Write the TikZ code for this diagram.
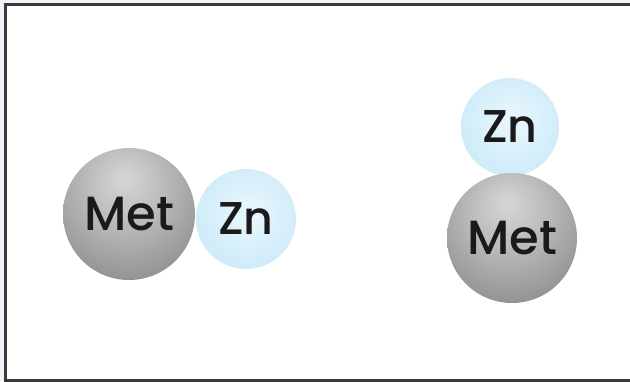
\documentclass[tikz,border=0pt]{standalone}
\usepackage{fontspec}
\setmainfont{Poppins}[UprightFont={* Medium}]
\definecolor{znlight}{HTML}{EAF7FD}
\definecolor{znmid}{HTML}{CDEBF8}
\definecolor{znedge}{HTML}{A9DBF3}
\definecolor{framecol}{HTML}{3A3A3A}
\definecolor{outside}{HTML}{EEF4FA}
\definecolor{labelcol}{HTML}{1A1A1A}
% sphere fills: a grey metal ball lit from above, a pale blue zinc ball
\pgfdeclareradialshading{metball}{\pgfpoint{-2bp}{14bp}}{%
  color(0bp)=(black!16); color(14bp)=(black!26); color(30bp)=(black!40); color(42bp)=(black!52); color(56bp)=(black!64); color(70bp)=(black!70)}
\pgfdeclareradialshading{znball}{\pgfpoint{2bp}{4bp}}{%
  color(0bp)=(znlight); color(28bp)=(znmid); color(50bp)=(znedge); color(60bp)=(znedge)}
\tikzset{
  metsphere/.style={circle, shading=metball, minimum size=132pt, inner sep=0pt,
    font=\fontsize{48}{48}\selectfont, text=labelcol},
  znsphere/.style={circle, shading=znball, minimum size=100pt, inner sep=0pt,
    font=\fontsize{46}{46}\selectfont, text=labelcol},
}
\begin{document}
\begin{tikzpicture}[x=1pt,y=-1pt]
  \useasboundingbox (0,0) rectangle (630,381);
  \fill[outside] (0,0) rectangle (630,381);
  \draw[framecol, line width=2.6pt, fill=white] (5.3,4.3) rectangle (640,380.2);
  % left pair: metal and zinc side by side
  \node[metsphere] (metA) at (129,214) {Met};
  \node[znsphere] (znA) at (246,219) {Zn};
  % right pair: zinc sitting on top of the metal
  \node[znsphere, minimum size=98pt] (znB) at (510,127) {Zn};
  \node[metsphere, minimum size=130pt] (metB) at (512,238) {Met};
\end{tikzpicture}
\end{document}
